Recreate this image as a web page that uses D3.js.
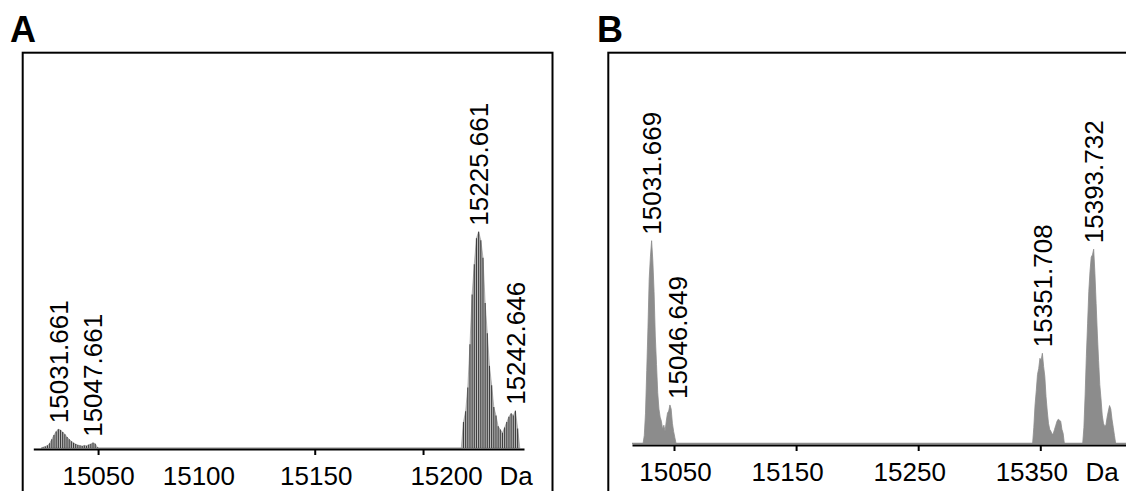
<!DOCTYPE html>
<html>
<head>
<meta charset="utf-8">
<script src="https://cdn.jsdelivr.net/npm/d3@7"></script>
<style>
  body { margin: 0; background: #fff; }
  svg { display: block; }
  text { font-family: "Liberation Sans", Arial, Helvetica, sans-serif; fill: #000; }
</style>
</head>
<body>
<svg id="chart" width="1126" height="491"></svg>
<script>
// ---- Panel A: deconvoluted spectrum, [mass (Da), relative intensity %] ----
const spectrumA = [
  [15023.661, 0], [15024.661, 0.4], [15025.661, 0.7], [15026.661, 1.2], [15027.661, 2.2],
  [15028.661, 4.0], [15029.661, 6.0], [15030.661, 7.6], [15031.661, 8.7], [15032.661, 8.3],
  [15033.661, 7.4], [15034.661, 6.3], [15035.661, 5.1], [15036.661, 4.0], [15037.661, 3.1],
  [15038.661, 2.4], [15039.661, 1.8], [15040.661, 1.4], [15041.661, 1.1], [15042.661, 0.9],
  [15043.661, 1.2], [15044.661, 1.0], [15045.661, 1.5], [15046.661, 1.9], [15047.661, 2.4],
  [15048.661, 2.0], [15049.661, 0.3], [15050.661, 0],
  [15217.661, 0], [15218.661, 12], [15219.661, 17], [15220.661, 28], [15221.661, 48],
  [15222.661, 71], [15223.661, 85], [15224.661, 97], [15225.661, 100], [15226.661, 96],
  [15227.661, 88], [15228.661, 67], [15229.661, 53], [15230.661, 38], [15231.661, 29],
  [15232.661, 19], [15233.661, 15], [15234.661, 10], [15235.661, 8.5], [15236.661, 7],
  [15237.661, 9.5], [15238.661, 12], [15239.661, 14.5], [15240.661, 16], [15241.661, 15],
  [15242.646, 17.2], [15243.661, 9], [15244.661, 0]
];
const peaksA = [15031.661, 15047.661, 15225.661, 15242.646];
const axisLabelsA = [15050, 15100, 15150, 15200];
const tickMarksA = [15050, 15150, 15200];

// ---- Panel B ----
const spectrumB = [
  [15024.669, 0], [15025.669, 4], [15026.669, 15], [15027.669, 36], [15028.669, 57],
  [15029.669, 81], [15030.669, 92], [15031.669, 100], [15032.669, 90], [15033.669, 75],
  [15034.669, 53], [15035.669, 39], [15036.669, 25], [15037.669, 17], [15038.669, 13],
  [15039.669, 11], [15040.669, 7], [15041.669, 9], [15042.669, 6], [15043.669, 11],
  [15044.669, 15], [15045.669, 16], [15046.649, 19], [15047.669, 17], [15048.669, 10],
  [15049.669, 6], [15050.669, 3], [15051.669, 0],
  [15343.708, 0], [15344.708, 8], [15345.708, 19], [15346.708, 26], [15347.708, 34],
  [15348.708, 37], [15349.708, 42], [15350.708, 41], [15351.708, 44.5], [15352.708, 38],
  [15353.708, 33], [15354.708, 23], [15355.708, 16], [15356.708, 10], [15357.708, 7],
  [15358.708, 6], [15359.708, 4.5], [15360.708, 5], [15361.708, 7], [15362.708, 9],
  [15363.708, 11], [15364.708, 12], [15365.708, 11.5], [15366.708, 11], [15367.708, 7],
  [15368.708, 5], [15369.708, 0],
  [15384.732, 0], [15385.732, 8], [15386.732, 24], [15387.732, 43], [15388.732, 59],
  [15389.732, 75], [15390.732, 85], [15391.732, 92], [15392.732, 93], [15393.732, 95.8],
  [15394.732, 84], [15395.732, 69], [15396.732, 54], [15397.732, 41], [15398.732, 29],
  [15399.732, 22], [15400.732, 14], [15401.732, 10], [15402.732, 8.5], [15403.732, 9],
  [15404.732, 13], [15405.732, 16], [15406.732, 18.7], [15407.732, 17], [15408.732, 12],
  [15409.732, 8], [15410.732, 4], [15411.732, 0]
];
const peaksB = [15031.669, 15046.649, 15351.708, 15393.732];
const axisLabelsB = [15050, 15150, 15250, 15350];
const tickMarksB = [15050, 15150, 15250, 15350];

const unitLabel = "Da";

const svg = d3.select("#chart");
const FONT = 26;

function panel(opts) {
  const g = svg.append("g");

  // frame (open towards the page edge)
  g.append("rect")
    .attr("x", opts.frame[0]).attr("y", opts.frame[1])
    .attr("width", opts.frame[2]).attr("height", 600)
    .attr("fill", "none").attr("stroke", "#000").attr("stroke-width", 2);

  // panel letter
  g.append("text")
    .attr("x", opts.letterX).attr("y", 42)
    .attr("font-size", 36).attr("font-weight", "bold")
    .text(opts.letter);

  const x = d3.scaleLinear().domain(opts.xDomain).range(opts.xRange);
  const y = d3.scaleLinear().domain([0, 100]).range(opts.yRange);

  const data = opts.spectrum;

  if (opts.style === "sticks") {
    // light profile fill with a stick drawn at every sampled point
    g.append("path")
      .datum(data)
      .attr("fill", "#bdbdbd")
      .attr("stroke", "#8f8f8f")
      .attr("stroke-width", 0.6)
      .attr("d", d3.area().x(d => x(d[0])).y0(y(0)).y1(d => y(d[1])));
    g.selectAll("line.stick")
      .data(data.filter(d => d[1] > 0))
      .join("line")
      .attr("class", "stick")
      .attr("x1", d => x(d[0])).attr("x2", d => x(d[0]))
      .attr("y1", y(0)).attr("y2", d => y(d[1]))
      .attr("stroke", "#3e3e3e").attr("stroke-width", 1.1);
  } else {
    // zero-level trace across the whole window
    g.append("line")
      .attr("x1", opts.xRange[0]).attr("x2", opts.xRange[1])
      .attr("y1", y(0)).attr("y2", y(0))
      .attr("stroke", "#8c8c8c").attr("stroke-width", 1.5);
    g.append("path")
      .datum(data)
      .attr("fill", "#8c8c8c")
      .attr("stroke", "#8c8c8c")
      .attr("stroke-width", 0.8)
      .attr("stroke-linejoin", "round")
      .attr("d", d3.area().x(d => x(d[0])).y0(y(0)).y1(d => y(d[1])));
  }

  // x axis: labelled positions, tick marks only where drawn
  const axis = d3.axisBottom(x)
    .tickValues(opts.axisLabels)
    .tickSize(6)
    .tickSizeOuter(0)
    .tickPadding(12)
    .tickFormat(d3.format("d"));
  const ax = g.append("g")
    .attr("transform", `translate(0,${opts.axisY})`)
    .call(axis);
  ax.select(".domain").attr("stroke", "#000").attr("stroke-width", 2);
  ax.selectAll(".tick line")
    .attr("stroke", "#000").attr("stroke-width", 2)
    .attr("display", d => opts.tickMarks.includes(d) ? null : "none");
  ax.selectAll(".tick text")
    .attr("font-size", FONT)
    .attr("font-family", "Liberation Sans, Arial, sans-serif")
    .attr("fill", "#000")
    .attr("x", d => opts.labelNudge[d] || 0);

  g.append("text")
    .attr("x", opts.unitX)
    .attr("y", opts.axisY + 12 + 6)
    .attr("dy", "0.71em")
    .attr("text-anchor", "middle")
    .attr("font-size", FONT)
    .text(unitLabel);

  // peak annotations, placed above each apex
  const lookup = new Map(data.map(d => [d[0], d[1]]));
  g.selectAll("text.peak")
    .data(opts.peaks)
    .join("text")
    .attr("class", "peak")
    .attr("font-size", FONT)
    .attr("transform", m => {
      const px = x(m) + (opts.peakNudge[m] || 0);
      const py = y(lookup.get(m)) - 6;
      return `translate(${px},${py}) rotate(-90)`;
    })
    .attr("dy", "0.36em")
    .text(m => m.toFixed(3));
}

panel({
  letter: "A", letterX: 10,
  frame: [22.7, 52.7, 529.8],
  spectrum: spectrumA, style: "sticks",
  xDomain: [15020.1, 15246.6], xRange: [33.3, 524],
  yRange: [448, 231.7], axisY: 449,
  axisLabels: axisLabelsA, tickMarks: tickMarksA,
  labelNudge: {15100: -8, 15150: 1, 15200: 23},
  unitX: 516,
  peaks: peaksA, peakNudge: {}
});

panel({
  letter: "B", letterX: 597,
  frame: [608.3, 52.7, 700],
  spectrum: spectrumB, style: "fill",
  xDomain: [15015.6, 15420.2], xRange: [632, 1126],
  yRange: [443.5, 240.7], axisY: 445,
  axisLabels: axisLabelsB, tickMarks: tickMarksB,
  labelNudge: {15050: 1, 15150: -9, 15250: -9, 15350: -9},
  unitX: 1102,
  peaks: peaksB, peakNudge: {15046.649: 8}
});
</script>
</body>
</html>
